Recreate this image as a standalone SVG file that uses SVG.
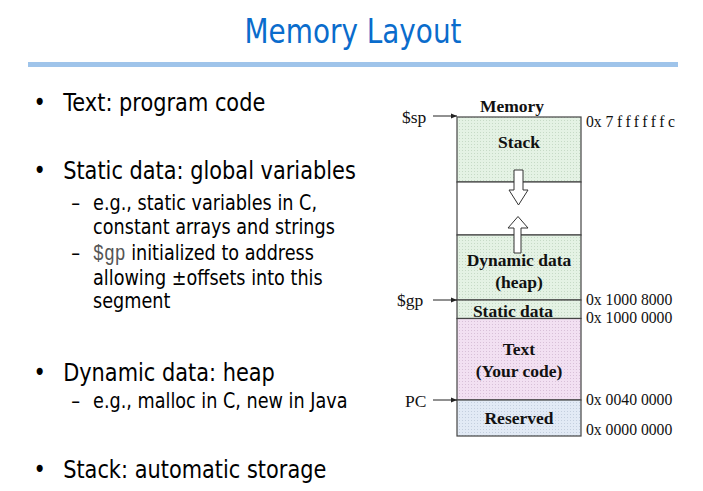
<svg xmlns="http://www.w3.org/2000/svg" width="703" height="491" viewBox="0 0 703 491">
  <style>
    .title { font-family: "DejaVu Sans", "Noto Sans", sans-serif; font-size: 34px; fill: #0a6ccc; }
    .b1 { font-family: "DejaVu Sans", "Noto Sans", sans-serif; font-size: 25.5px; fill: #000; }
    .b2 { font-family: "DejaVu Sans", "Noto Sans", sans-serif; font-size: 21.5px; fill: #000; }
    .mono { font-family: "Liberation Mono", monospace; font-size: 22px; fill: #555; }
    .seg { font-family: "Liberation Serif", serif; font-size: 17.5px; font-weight: bold; fill: #111; text-anchor: middle; }
    .addr { font-family: "Liberation Serif", serif; font-size: 15.7px; fill: #111; }
    .reg { font-family: "Liberation Serif", serif; font-size: 17.5px; fill: #111; }
    .box { stroke: #444; stroke-width: 1.2; }
    .ptr { stroke: #222; stroke-width: 1; fill: none; marker-end: url(#tip); }
    .hollow { fill: #fff; stroke: #333; stroke-width: 1; }
  </style>
  <defs>
    <marker id="tip" viewBox="0 0 10 10" refX="10" refY="5" markerWidth="6" markerHeight="6" orient="auto" markerUnits="userSpaceOnUse">
      <path d="M0,1 L10,5 L0,9 Z" fill="#222"/>
    </marker>
    <pattern id="green" width="3" height="3" patternUnits="userSpaceOnUse">
      <rect width="3" height="3" fill="#e4f2e4"/>
      <rect width="1" height="1" fill="#c6dac6"/>
    </pattern>
    <pattern id="pink" width="3" height="3" patternUnits="userSpaceOnUse">
      <rect width="3" height="3" fill="#f2e0f2"/>
      <rect width="1" height="1" fill="#d8c0d8"/>
    </pattern>
    <pattern id="blue" width="3" height="3" patternUnits="userSpaceOnUse">
      <rect width="3" height="3" fill="#e2eaf5"/>
      <rect width="1" height="1" fill="#c4cfde"/>
    </pattern>
  </defs>

  <rect width="703" height="491" fill="#fff"/>

  <!-- heading (narrow-set sans, compressed horizontally) -->
  <g id="heading">
    <g transform="scale(0.82,1)">
      <text class="title" x="430.5" y="43" text-anchor="middle">Memory Layout</text>
    </g>
    <rect x="28" y="62" width="650" height="5" fill="#9fc4ea"/>
  </g>

  <!-- bullet list -->
  <g id="bullets" transform="scale(0.82,1)">
    <text class="b1" x="41" y="111">•</text>
    <text class="b1" x="77" y="111">Text: program code</text>
    <text class="b1" x="41" y="179">•</text>
    <text class="b1" x="77" y="179">Static data: global variables</text>
    <text class="b2" x="87" y="210">–</text>
    <text class="b2" x="113.5" y="210">e.g., static variables in C,</text>
    <text class="b2" x="113.5" y="234">constant arrays and strings</text>
    <text class="b2" x="87" y="260">–</text>
    <text class="b2" x="113.5" y="260"><tspan class="mono">$gp</tspan> initialized to address</text>
    <text class="b2" x="113.5" y="285">allowing ±offsets into this</text>
    <text class="b2" x="113.5" y="308">segment</text>
    <text class="b1" x="41" y="381">•</text>
    <text class="b1" x="77" y="381">Dynamic data: heap</text>
    <text class="b2" x="87" y="408">–</text>
    <text class="b2" x="113.5" y="408">e.g., malloc in C, new in Java</text>
    <text class="b1" x="41" y="478">•</text>
    <text class="b1" x="77" y="478">Stack: automatic storage</text>
  </g>

  <!-- memory segments -->
  <g id="memory">
    <text class="seg" x="512" y="112">Memory</text>
  </g>
  <g id="stack">
    <rect class="box" x="457" y="117" width="124" height="65" fill="url(#green)"/>
    <text class="seg" x="519" y="148">Stack</text>
  </g>
  <g id="free">
    <rect class="box" x="457" y="182" width="124" height="53" fill="#fff"/>
  </g>
  <g id="dynamic">
    <rect class="box" x="457" y="235" width="124" height="65" fill="url(#green)"/>
    <text class="seg" x="519" y="266">Dynamic data</text>
    <text class="seg" x="519" y="288">(heap)</text>
  </g>
  <g id="static">
    <rect class="box" x="457" y="300" width="124" height="18.5" fill="url(#green)"/>
    <text class="seg" x="513" y="317">Static data</text>
  </g>
  <g id="text">
    <rect class="box" x="457" y="318.5" width="124" height="81.5" fill="url(#pink)"/>
    <text class="seg" x="519" y="355">Text</text>
    <text class="seg" x="519" y="377">(Your code)</text>
  </g>
  <g id="reserved">
    <rect class="box" x="457" y="400" width="124" height="36" fill="url(#blue)"/>
    <text class="seg" x="519" y="424">Reserved</text>
  </g>

  <!-- growth arrows -->
  <g id="growth">
    <path class="hollow" d="M514,170 H523 V190 H528 L518.5,205 L509,190 H514 Z"/>
    <path class="hollow" d="M514,253 V228 H508 L518,216.5 L528,228 H521 V253 Z"/>
  </g>

  <!-- addresses -->
  <g id="addresses">
    <text class="addr" x="586" y="127">0x <tspan letter-spacing="3.5">7ffffff</tspan>c</text>
    <text class="addr" x="586" y="305">0x 1000 8000</text>
    <text class="addr" x="586" y="323">0x 1000 0000</text>
    <text class="addr" x="586" y="405">0x 0040 0000</text>
    <text class="addr" x="586" y="435">0x 0000 0000</text>
  </g>

  <!-- register pointers -->
  <g id="connectors">
    <text class="reg" x="402" y="123">$sp</text>
    <line class="ptr" x1="433" y1="116" x2="457" y2="116"/>
    <text class="reg" x="397" y="306">$gp</text>
    <line class="ptr" x1="433" y1="300" x2="457" y2="300"/>
    <text class="reg" x="405" y="407">PC</text>
    <line class="ptr" x1="433" y1="400" x2="457" y2="400"/>
  </g>
</svg>
